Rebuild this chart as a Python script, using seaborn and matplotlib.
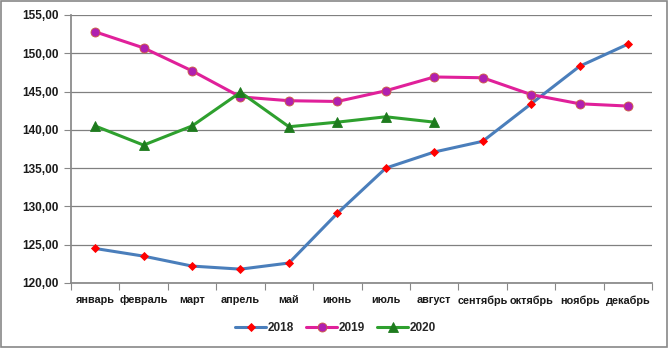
import matplotlib
matplotlib.use("Agg")
import matplotlib.pyplot as plt
import seaborn as sns
import pandas as pd
import numpy as np
from matplotlib.ticker import FixedLocator, FuncFormatter

months = ["январь", "февраль", "март", "апрель", "май", "июнь", "июль",
          "август", "сентябрь", "октябрь", "ноябрь", "декабрь"]
v2018 = [124.5, 123.5, 122.2, 121.8, 122.6, 129.1, 135.0, 137.1, 138.5, 143.4, 148.3, 151.2]
v2019 = [152.8, 150.7, 147.7, 144.3, 143.8, 143.7, 145.1, 146.9, 146.8, 144.6, 143.4, 143.1]
v2020 = [140.5, 138.0, 140.5, 144.9, 140.4, 141.0, 141.7, 141.0]

sns.set_theme(style="white")
plt.rcParams['font.family'] = ['Liberation Sans', 'DejaVu Sans']

fig = plt.figure(figsize=(6.69, 3.48), dpi=100)
ax = fig.add_axes([0.106, 0.187, 0.869, 0.770])

series = [
    ("2018", v2018, "#4A7EBB", "D", "#FF0000", "#FF0000", 4.5),
    ("2019", v2019, "#E0209A", "o", "#B020B0", "#D06040", 6.5),
    ("2020", v2020, "#2EA02E", "^", "#1E7B1E", "#1E7B1E", 6.5),
]
for name, vals, lc, mk, mfc, mec, ms in series:
    df = pd.DataFrame({"x": np.arange(len(vals)), "y": vals})
    sns.lineplot(data=df, x="x", y="y", ax=ax, color=lc, linewidth=2.2,
                 marker=mk, markerfacecolor=mfc, markeredgecolor=mec,
                 markersize=ms, markeredgewidth=0.6, label=name, sort=False)

ax.set_xlim(-0.5, 11.5)
ax.set_ylim(120, 155)
ax.set_yticks(np.arange(120, 156, 5))
ax.yaxis.set_major_formatter(FuncFormatter(lambda v, p: f"{v:.2f}".replace(".", ",")))
ax.set_xticks(np.arange(12))
ax.set_xticklabels(months)
ax.xaxis.set_minor_locator(FixedLocator(np.arange(-0.5, 12, 1)))
ax.tick_params(axis="x", which="major", length=0, pad=9, labelsize=7.8)
ax.tick_params(axis="x", which="minor", length=5, width=0.8, color="#888888", bottom=True)
ax.tick_params(axis="y", length=5, width=0.8, color="#888888", left=True, labelsize=8.5, pad=4)
for lab in ax.get_xticklabels() + ax.get_yticklabels():
    lab.set_fontweight("bold")
    lab.set_color("#1a1a1a")
ax.set_xlabel("")
ax.set_ylabel("")
ax.grid(axis="y", color="#808080", linewidth=0.9)
ax.set_axisbelow(True)
for s in ["top", "right"]:
    ax.spines[s].set_visible(False)
ax.spines["left"].set_color("#888888")
ax.spines["bottom"].set_color("#888888")

ax.legend(loc="upper center", bbox_to_anchor=(0.455, -0.105), ncol=3, frameon=False,
          prop={"weight": "bold", "size": 8.5}, handlelength=2.6, columnspacing=1.1,
          handletextpad=0.1)

fig.patches.append(plt.Rectangle((0.002, 0.004), 0.995, 0.992, transform=fig.transFigure,
                                 fill=False, edgecolor="#888888", linewidth=1.2))
fig.savefig("out.png", dpi=100, facecolor="white")
